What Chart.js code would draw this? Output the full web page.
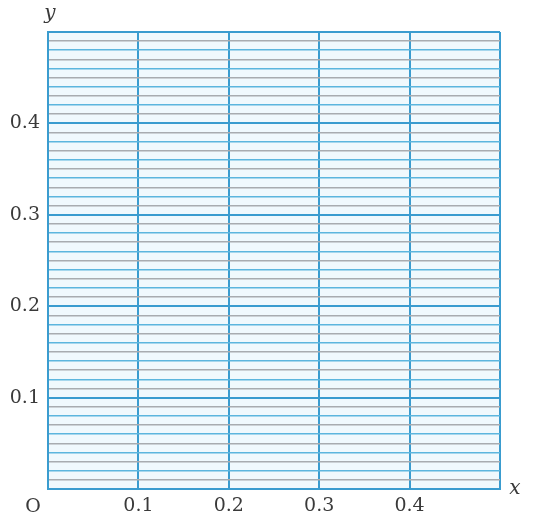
<!DOCTYPE html>
<html>
<head>
<meta charset="utf-8">
<script src="https://cdn.jsdelivr.net/npm/chart.js@4/dist/chart.umd.min.js"></script>
<style>
  html, body { margin: 0; padding: 0; background: #fff; }
  #wrap { width: 533px; height: 529px; }
</style>
</head>
<body>
<div id="wrap"><canvas id="grafikKertas"></canvas></div>
<script>
// data dari gambar
const xMin = 0, xMax = 0.5;
const yMin = 0, yMax = 0.5;
const xTickLabels = [0.1, 0.2, 0.3, 0.4];
const yTickLabels = [0.1, 0.2, 0.3, 0.4];
const xStep = 0.1;
const yStep = 0.01; // garis tipis tiap 0.01

const biruTebal = '#3a9ccf';
const biruTipis = '#5cb6de';
const abuTipis = '#a8acb0';
const hurufAngka = '"DejaVu Serif", serif';

function bulat(v) { return Math.round(v * 100) / 100; }
function kelipatan(v, step) { return Math.abs(v / step - Math.round(v / step)) < 1e-6; }

// latar kertas + label O, x, y
const kertas = {
  id: 'kertas',
  beforeDraw(chart) {
    const { ctx, chartArea: a } = chart;
    ctx.save();
    ctx.fillStyle = '#f0f9fd';
    ctx.fillRect(a.left, a.top, a.right - a.left, a.bottom - a.top);
    ctx.restore();
  },
  afterDraw(chart) {
    const { ctx, chartArea: a } = chart;
    ctx.save();
    ctx.fillStyle = '#3a3a3a';
    ctx.font = '19px ' + hurufAngka;
    ctx.textAlign = 'center';
    ctx.textBaseline = 'middle';
    ctx.fillText('O', a.left - 15, a.bottom + 18);
    ctx.font = 'italic 20px ' + hurufAngka;
    ctx.fillText('x', a.right + 15, a.bottom);
    ctx.fillText('y', a.left + 2, a.top - 18);
    ctx.restore();
  }
};

new Chart(document.getElementById('grafikKertas'), {
  type: 'scatter',
  data: { datasets: [{ data: [] }] },
  options: {
    responsive: true,
    maintainAspectRatio: false,
    animation: false,
    layout: { padding: { top: 32, right: 33, left: 0, bottom: 0 } },
    plugins: { legend: { display: false }, tooltip: { enabled: false } },
    scales: {
      x: {
        type: 'linear',
        min: xMin,
        max: xMax,
        afterFit(scale) { scale.height = 40; },
        ticks: {
          stepSize: xStep,
          autoSkip: false,
          maxRotation: 0,
          padding: 6,
          color: '#3a3a3a',
          font: { family: hurufAngka, size: 19 },
          callback: v => xTickLabels.includes(bulat(v)) ? String(bulat(v)) : ''
        },
        grid: {
          drawTicks: false,
          color: biruTebal,
          lineWidth: 2
        },
        border: { color: biruTebal, width: 2 }
      },
      y: {
        type: 'linear',
        min: yMin,
        max: yMax,
        afterFit(scale) { scale.width = 48; },
        ticks: {
          stepSize: yStep,
          autoSkip: false,
          padding: 8,
          color: '#3a3a3a',
          font: { family: hurufAngka, size: 19 },
          callback: v => yTickLabels.includes(bulat(v)) ? String(bulat(v)) : ''
        },
        grid: {
          drawTicks: false,
          color: c => {
            const v = c.tick ? c.tick.value : 0;
            if (kelipatan(v, 0.1)) return biruTebal;
            const n = Math.round(v * 100);
            return n % 2 === 1 ? abuTipis : biruTipis;
          },
          lineWidth: c => {
            const v = c.tick ? c.tick.value : 0;
            return kelipatan(v, 0.1) ? 2 : 1.6;
          }
        },
        border: { color: biruTebal, width: 2 }
      }
    }
  },
  plugins: [kertas]
});
</script>
</body>
</html>
